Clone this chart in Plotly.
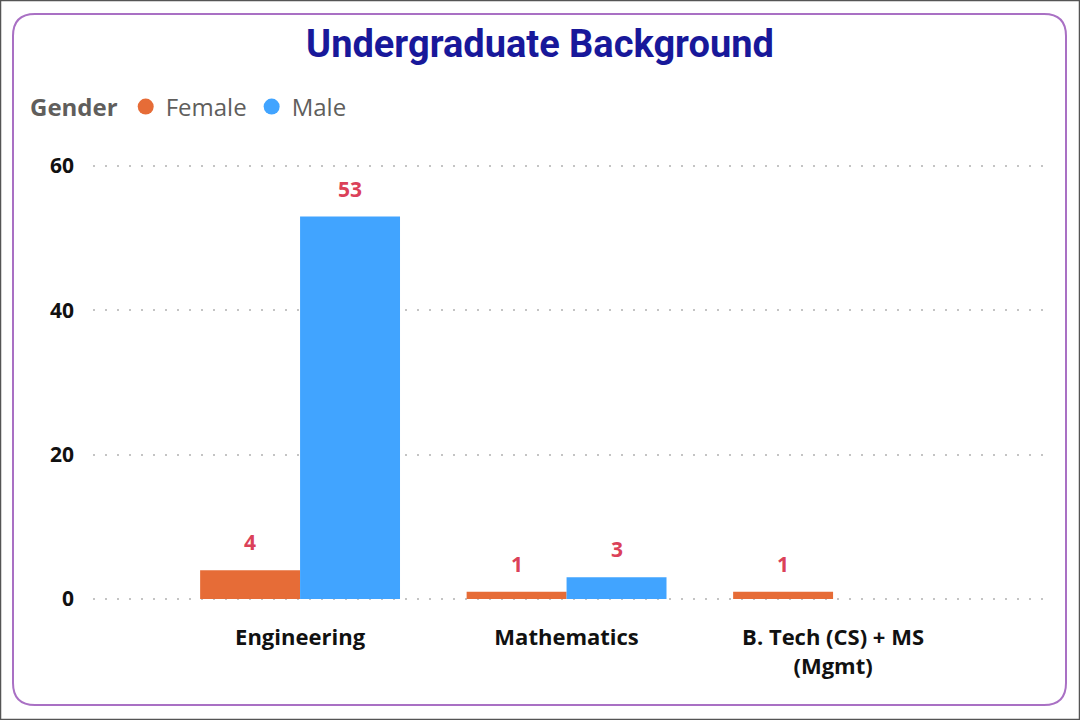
import plotly.graph_objects as go

categories = ["Engineering", "Mathematics", "B. Tech (CS) + MS<br>(Mgmt)"]
female = [4, 1, 1]
male = [53, 3, None]
y_ticks = [0, 20, 40, 60]

W, H = 1080, 720
ML, MR, MT, MB = 93, 30, 161, 116
PW, PH = W - ML - MR, H - MT - MB
UNIT = 433 / 60  # pixels per y unit
y_lo = -(H - MB - 599) / UNIT
y_hi = 60 + (166 - MT) / UNIT

def px(x):
    return (x - ML) / PW

def py(y):
    return (H - MB - y) / PH

orange = "#E66C37"
blue = "#41A4FF"
label_color = "#DB4159"

fig = go.Figure()
fig.add_trace(go.Bar(x=list(range(len(categories))), y=female, name="Female",
                     marker_color=orange, marker_line_width=0, showlegend=False))
fig.add_trace(go.Bar(x=list(range(len(categories))), y=male, name="Male",
                     marker_color=blue, marker_line_width=0, showlegend=False))
# legend markers (circles)
fig.add_trace(go.Scatter(x=[None], y=[None], mode="markers", name="Female",
                         marker=dict(color=orange, size=21, symbol="circle")))
fig.add_trace(go.Scatter(x=[None], y=[None], mode="markers", name="Male",
                         marker=dict(color=blue, size=21, symbol="circle")))

bar_w = 0.75 / 2
annotations = []
for i, (f, m) in enumerate(zip(female, male)):
    for val, off in ((f, -bar_w / 2), (m, bar_w / 2)):
        if val is None:
            continue
        annotations.append(dict(x=i + off, y=val, xref="x", yref="y", text=str(val),
                                showarrow=False, yanchor="bottom", yshift=12,
                                font=dict(family="Open Sans", size=21, color=label_color, weight="bold")))

# rounded border
x0, x1 = px(13), px(1066)
y0, y1 = py(14), py(705)
rx, ry = 22 / PW, 22 / PH
path = (f"M {x0+rx},{y0} L {x1-rx},{y0} Q {x1},{y0} {x1},{y0-ry} "
        f"L {x1},{y1+ry} Q {x1},{y1} {x1-rx},{y1} L {x0+rx},{y1} Q {x0},{y1} {x0},{y1+ry} "
        f"L {x0},{y0-ry} Q {x0},{y0} {x0+rx},{y0} Z")
shapes = [
    dict(type="path", path=path, xref="paper", yref="paper",
         line=dict(color="#A970C4", width=2), layer="below"),
    dict(type="rect", x0=px(0.5), x1=px(1079.5), y0=py(0.5), y1=py(719.5), xref="paper", yref="paper",
         line=dict(color="#555555", width=1.5), layer="below"),
]

fig.update_layout(
    width=W, height=H,
    margin=dict(l=ML, r=MR, t=MT, b=MB, autoexpand=False),
    paper_bgcolor="white", plot_bgcolor="white",
    barmode="group", bargap=0.25, bargroupgap=0,
    title=dict(text="Undergraduate Background", x=0.5, xanchor="center",
               y=1 - 44 / H, yanchor="middle", yref="container",
               font=dict(family="Roboto", size=38, color="#18189A", weight="bold")),
    legend=dict(orientation="h", x=px(28), xanchor="left", y=py(107), yanchor="middle",
                title=dict(text="Gender", font=dict(family="Open Sans", size=24, color="#605E5C", weight="bold")),
                font=dict(family="Open Sans", size=24, color="#605E5C"),
                itemwidth=30, bgcolor="rgba(0,0,0,0)", tracegroupgap=0),
    xaxis=dict(tickmode="array", tickvals=list(range(len(categories))), ticktext=categories,
               range=[-0.777, 2.814], showgrid=False, zeroline=False, showline=False,
               ticks="", ticklabelstandoff=18,
               tickfont=dict(family="Open Sans", size=22, color="#111111", weight="bold")),
    yaxis=dict(range=[y_lo, y_hi], tickvals=y_ticks, showgrid=True, gridcolor="#C4C4C4",
               griddash="2px,10px", gridwidth=2, zeroline=False, showline=False,
               ticks="", ticklabelstandoff=18,
               tickfont=dict(family="Open Sans", size=21, color="#111111", weight="bold")),
    annotations=annotations,
    shapes=shapes,
)

fig.write_html("out.html")
